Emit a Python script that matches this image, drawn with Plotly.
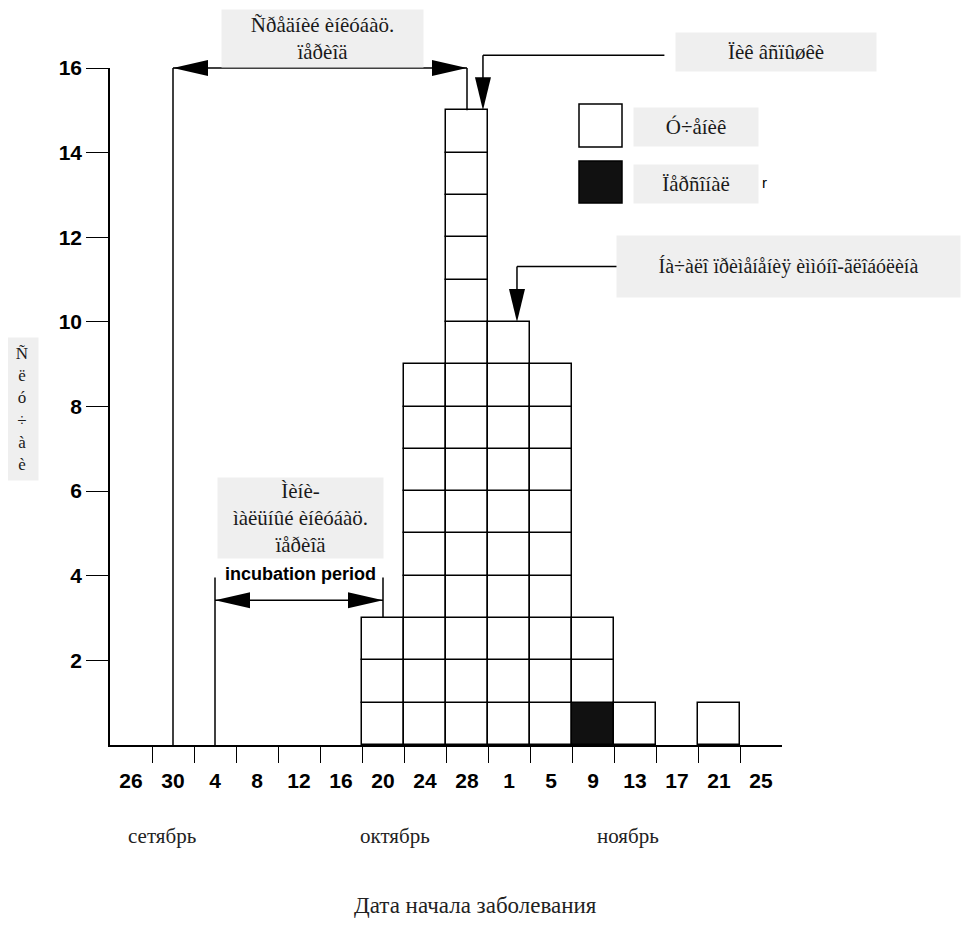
import plotly.graph_objects as go

# dates of onset (bins of 4 days) and number of cases
dates = ['26', '30', '4', '8', '12', '16', '20', '24', '28', '1', '5', '9', '13', '17', '21', '25']
students = [0, 0, 0, 0, 0, 0, 3, 9, 15, 10, 9, 2, 1, 0, 1, 0]
staff = [0, 0, 0, 0, 0, 0, 0, 0, 0, 0, 0, 1, 0, 0, 0, 0]
months = ['сетябрь', 'октябрь', 'ноябрь']
y_ticks = [2, 4, 6, 8, 10, 12, 14, 16]

# the page body adds 8px around the figure
OFF = 8
W, H = 973 - OFF, 939 - OFF
L, T = 110 - OFF, 68 - OFF
R = W - (782 - OFF)
B = H - (744.6 - OFF)
PW, PH = W - L - R, H - T - B


def px(x):
    return (x - OFF - L) / PW


def py(y):
    return (H - B - (y - OFF)) / PH


def Y(v):
    # data units -> paper on y
    return v / 16


# one square per case, stacked on top of each other
xs, bases, colors = [], [], []
for i, d in enumerate(dates):
    for k in range(staff[i] + students[i]):
        xs.append(i + 0.5)
        bases.append(k)
        colors.append('#111111' if k < staff[i] else 'white')

fig = go.Figure(go.Bar(x=xs, y=[1] * len(xs), base=bases, width=1,
                       marker=dict(color=colors, line=dict(color='black', width=1.5)),
                       showlegend=False, hoverinfo='skip'))

tickfont = dict(family='Liberation Sans', size=21, color='black', weight='bold')

fig.update_xaxes(range=[0, 16], showgrid=False, zeroline=False,
                 showline=True, linecolor='black', linewidth=1.5,
                 tickvals=[i + 0.5 for i in range(len(dates))], ticktext=dates,
                 ticks='outside', ticklen=16, tickcolor='rgba(0,0,0,0)',
                 minor=dict(tickvals=list(range(1, 16)), ticks='outside', ticklen=16,
                            tickcolor='black', tickwidth=1),
                 tickfont=tickfont)
fig.update_yaxes(range=[0, 16], showgrid=False, zeroline=False,
                 showline=True, linecolor='black', linewidth=1.5,
                 tickvals=y_ticks, ticks='outside', ticklen=22, tickwidth=1,
                 tickcolor='black', tickfont=tickfont)

line = dict(color='black', width=1.5)
shapes = []


def seg(x0, y0, x1, y1):
    shapes.append(dict(type='line', xref='x', yref='paper', x0=x0, y0=Y(y0), x1=x1, y1=Y(y1), line=line))


def head(x, y, direction):
    p = {'left': 'M0,0 L35,8 L35,-8 Z', 'right': 'M0,0 L-35,8 L-35,-8 Z',
         'down': 'M0,0 L-8,33 L8,33 Z'}[direction]
    shapes.append(dict(type='path', xref='x', yref='paper', xsizemode='pixel', ysizemode='pixel',
                       xanchor=x, yanchor=Y(y), path=p, fillcolor='black', line=dict(width=0)))


# mean incubation period
seg(1.5, 0, 1.5, 16)
seg(8.5, 15, 8.5, 16)
seg(1.5, 16, 8.5, 16)
head(1.5, 16, 'left')
head(8.5, 16, 'right')
# peak of outbreak
seg(8.88, 16.3, 13.2, 16.3)
seg(8.88, 16.3, 8.88, 15.6)
head(8.88, 15.0, 'down')
# start of immunoglobulin
seg(9.69, 11.31, 12.07, 11.31)
seg(9.69, 11.31, 9.69, 10.6)
head(9.69, 10.0, 'down')
# minimal incubation period
seg(2.5, 0, 2.5, 3.96)
seg(6.5, 3, 6.5, 3.96)
seg(2.5, 3.42, 6.5, 3.42)
head(2.5, 3.42, 'left')
head(6.5, 3.42, 'right')

# legend squares
shapes.append(dict(type='rect', xref='paper', yref='paper', x0=px(579), x1=px(622), y0=py(147), y1=py(104),
                   fillcolor='white', line=dict(color='black', width=1.5)))
shapes.append(dict(type='rect', xref='paper', yref='paper', x0=px(579), x1=px(622), y0=py(203), y1=py(161),
                   fillcolor='#111111', line=dict(color='black', width=1.5)))

annotations = []


def text(t, x, y, size=19, family='Liberation Serif', color='#222222', weight='normal'):
    annotations.append(dict(text=t, xref='paper', yref='paper', x=px(x), y=py(y),
                            xanchor='center', yanchor='middle', showarrow=False,
                            font=dict(family=family, size=size, color=color, weight=weight)))


def box(t, x0, y0, x1, y1, size=21):
    annotations.append(dict(text=t, xref='paper', yref='paper', x=px((x0 + x1) / 2), y=py((y0 + y1) / 2),
                            xanchor='center', yanchor='middle', width=x1 - x0, height=y1 - y0,
                            bgcolor='#efefef', borderpad=0, showarrow=False,
                            font=dict(family='Liberation Serif', size=size, color='#1a1a1a')))


text('incubation period', 300, 574, size=18, family='Liberation Sans', color='black', weight='bold')
text('r', 764, 182, size=15, family='Liberation Sans', color='black')

box('Ñðåäíèé èíêóáàö.<br>ïåðèîä', 222, 10, 423, 67)
box('Ïèê âñïûøêè', 676, 33, 876, 71)
box('Ó÷åíèê', 634, 108, 758, 146)
box('Ïåðñîíàë', 634, 165, 758, 203)
box('Íà÷àëî ïðèìåíåíèÿ èììóíî-ãëîáóëèíà', 617, 236, 960, 297, size=20)
box('Ñ<br>ë<br>ó<br>÷<br>à<br>è', 6, 338, 38, 480, size=17)
box('Ìèíè-<br>ìàëüíûé èíêóáàö.<br>ïåðèîä', 218, 478, 383, 558)

for m, x in zip(months, [162, 395, 628]):
    text(m, x, 836, size=21)
text('Дата начала заболевания', 475, 905, size=23)

fig.update_layout(width=W, height=H, margin=dict(l=L, r=R, t=T, b=B),
                  plot_bgcolor='white', paper_bgcolor='white',
                  shapes=shapes, annotations=annotations, bargap=0)

fig.write_html('out.html')
